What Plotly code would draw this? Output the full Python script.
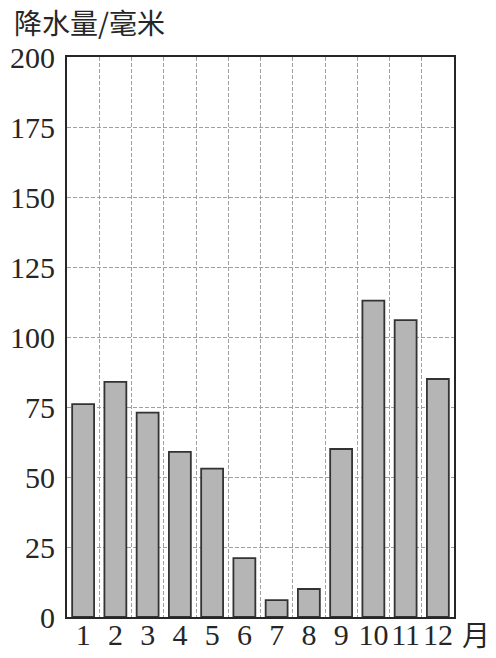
import plotly.graph_objects as go

months = [1, 2, 3, 4, 5, 6, 7, 8, 9, 10, 11, 12]
month_labels = ["1", "2", "3", "4", "5", "6", "7", "8", "9", "10", "11", "12"]
rain_mm = [76, 84, 73, 59, 53, 21, 6, 10, 60, 113, 106, 85]
y_ticks = [0, 25, 50, 75, 100, 125, 150, 175, 200]
boundaries = [m + 0.5 for m in months[:-1]]

ink = "#262626"
grid = "#a0a0a0"
fig = go.Figure()
fig.add_trace(go.Bar(
    x=months, y=rain_mm,
    marker=dict(color="#b5b5b5", line=dict(color="#333333", width=1.8)),
    width=0.68, hoverinfo="skip",
))
# invisible trace to carry the boundary-grid axis
fig.add_trace(go.Scatter(x=[months[0]], y=[0], xaxis="x2", mode="markers",
                         marker=dict(opacity=0), hoverinfo="skip", showlegend=False))

fig.update_layout(
    width=496, height=658,
    margin=dict(l=67, r=42, t=57, b=41, autoexpand=False),
    paper_bgcolor="white", plot_bgcolor="white",
    showlegend=False,
    font=dict(family="Liberation Serif", size=30, color=ink),
    xaxis=dict(
        range=[0.5, 12.5], tickvals=months, ticktext=month_labels,
        showgrid=False, zeroline=False, automargin=False,
        showline=True, linecolor=ink, linewidth=2, mirror=True,
        ticks="", ticklabelstandoff=-10,
        tickfont=dict(family="Liberation Serif", size=30, color=ink),
    ),
    xaxis2=dict(
        overlaying="x", range=[0.5, 12.5], tickvals=boundaries, automargin=False,
        showticklabels=False, showgrid=True, gridcolor=grid,
        griddash="4px,2px", gridwidth=1, zeroline=False, showline=False,
    ),
    yaxis=dict(
        range=[0, 200], tickvals=y_ticks, automargin=False,
        showgrid=True, gridcolor=grid, griddash="4px,2px", gridwidth=1,
        zeroline=False, showline=True, linecolor=ink, linewidth=2, mirror=True,
        ticks="outside", ticklen=4, tickcolor="rgba(0,0,0,0)",
        tickfont=dict(family="Liberation Serif", size=30, color=ink),
    ),
    annotations=[
        dict(text="降水量/毫米", xref="paper", yref="paper", x=-0.142, y=1.0,
             yshift=35, xanchor="left", yanchor="middle", showarrow=False,
             font=dict(family="Noto Sans CJK SC", size=28, color=ink)),
        dict(text="月", xref="paper", yref="paper", x=1.0, y=0, xshift=6,
             yshift=-17, xanchor="left", yanchor="middle", showarrow=False,
             font=dict(family="Noto Sans CJK SC", size=28, color=ink)),
    ],
)

fig.write_html(
    "out.html",
    config={"displayModeBar": False},
    post_script="document.body.style.margin='0';document.body.style.overflow='hidden';",
)
